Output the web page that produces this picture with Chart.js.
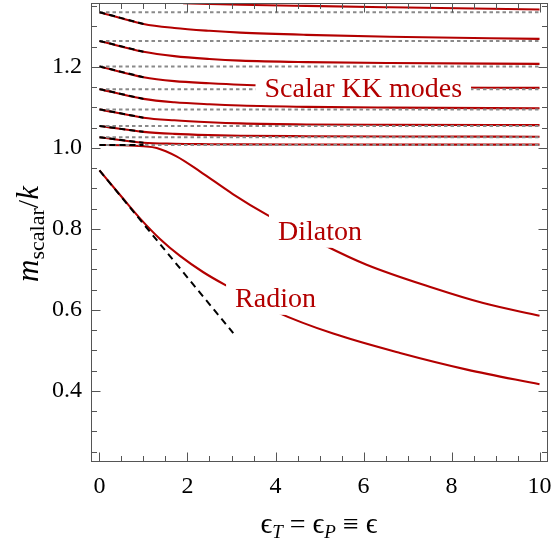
<!DOCTYPE html>
<html>
<head>
<meta charset="utf-8">
<script src="https://cdn.jsdelivr.net/npm/chart.js@4"></script>
<style>
  body { margin: 0; background: #fff; }
  canvas { display: block; }
</style>
</head>
<body>
<canvas id="chart" width="552" height="547"></canvas>
<script>
// epsilon=0 masses of the scalar KK tower (grey dotted lines)
var levels = [1.335, 1.264, 1.201, 1.145, 1.095, 1.054, 1.026, 1.007];

// KK modes, all read on the same epsilon grid
var kkX = [0, 1, 1.7, 2.5, 3.2, 4.7, 6.6, 10];
var kk8 = [1.335, 1.306, 1.296, 1.289, 1.2845, 1.279, 1.2745, 1.269];
var kk7 = [1.264, 1.2373, 1.2265, 1.2195, 1.2155, 1.2118, 1.2095, 1.2074];
var kk6 = [1.201, 1.1744, 1.1648, 1.1595, 1.156, 1.152, 1.1497, 1.148];
var kk5 = [1.145, 1.1209, 1.1125, 1.1075, 1.1045, 1.1012, 1.0994, 1.0977];
var kk4 = [1.095, 1.0745, 1.068, 1.0633, 1.0605, 1.0578, 1.0568, 1.0562];
var kk3 = [1.054, 1.0395, 1.0345, 1.0315, 1.030, 1.0288, 1.028, 1.0275];
var kk2 = [1.026, 1.0125, 1.010, 1.009, 1.0085, 1.0082, 1.008, 1.008];
// top mode only enters the frame around epsilon ~ 2
var kk9X = [1.9, 2.5, 3.2, 4.7, 6.6, 10];
var kk9 = [1.3572, 1.3555, 1.3535, 1.3505, 1.3472, 1.3417];

var dilatonX = [0, 0.5, 1.0, 1.3, 1.75, 2.28, 3.03, 3.8, 5.09, 6.07, 7.59, 8.72, 10];
var dilatonY = [1.007, 1.0065, 1.004, 0.9998, 0.979, 0.942, 0.886, 0.835, 0.7607, 0.7113, 0.6538, 0.6167, 0.5852];

var radionX = [0, 0.54, 0.92, 1.375, 1.83, 2.36, 2.89, 4.03, 5.31, 6.83, 8.35, 10];
var radionY = [0.9444, 0.8742, 0.8259, 0.775, 0.7331, 0.6928, 0.6594, 0.5944, 0.5413, 0.4934, 0.4524, 0.4161];

// small-epsilon expansions (black dashed)
var kkTangentX = [0, 1.0];
var kkTangentEnd = [1.306, 1.2373, 1.1744, 1.1209, 1.0745, 1.0395, 1.0125, 1.007];
var radionTangentX = [0, 3.04];
var radionTangentY = [0.9444, 0.5424];

var xTicks = [0, 2, 4, 6, 8, 10];
var yTicks = [0.4, 0.6, 0.8, 1.0, 1.2];

var RED = '#b30000';
var SERIF = "'Liberation Serif', 'DejaVu Serif', serif";

function pts(xs, ys) {
  return xs.map(function (x, i) { return { x: x, y: ys[i] }; });
}

function redLine(data) {
  return {
    data: data, borderColor: RED, borderWidth: 2.1, pointRadius: 0,
    cubicInterpolationMode: 'monotone', order: 3
  };
}

var datasets = [];
[kk2, kk3, kk4, kk5, kk6, kk7, kk8].forEach(function (ys) {
  datasets.push(redLine(pts(kkX, ys)));
});
datasets.push(redLine(pts(kk9X, kk9)));
datasets.push(redLine(pts(dilatonX, dilatonY)));
datasets.push(redLine(pts(radionX, radionY)));

levels.forEach(function (L, i) {
  datasets.push({
    data: pts([0, 10], [L, L]), borderColor: '#8a8a8a', borderWidth: 2,
    borderDash: [3.5, 3], pointRadius: 0, order: 2
  });
  datasets.push({
    data: pts(kkTangentX, [L, kkTangentEnd[i]]), borderColor: '#000', borderWidth: 2,
    borderDash: [6, 4], pointRadius: 0, order: 1
  });
});
datasets.push({
  data: pts(radionTangentX, radionTangentY), borderColor: '#000', borderWidth: 2,
  borderDash: [7, 5], pointRadius: 0, order: 1
});

// curve labels, anchored in data space (centre x, baseline y)
var curveLabels = [
  { text: 'Scalar KK modes', x: 5.995, y: 1.1266 },
  { text: 'Dilaton', x: 5.01, y: 0.773 },
  { text: 'Radion', x: 4.0, y: 0.6074 }
];

var labelPlugin = {
  id: 'curveLabels',
  afterDatasetsDraw: function (chart) {
    var ctx = chart.ctx, xs = chart.scales.x, ys = chart.scales.y;
    ctx.save();
    ctx.font = '28px ' + SERIF;
    ctx.textAlign = 'center';
    ctx.textBaseline = 'alphabetic';
    curveLabels.forEach(function (l) {
      var px = xs.getPixelForValue(l.x), py = ys.getPixelForValue(l.y);
      var w = ctx.measureText(l.text).width;
      ctx.fillStyle = '#fff';
      ctx.fillRect(px - w / 2 - 9, py - 27, w + 18, 35);
      ctx.fillStyle = RED;
      ctx.fillText(l.text, px, py);
    });
    ctx.restore();
  }
};

function drawPieces(ctx, pieces, startX, baseY) {
  var x = startX;
  pieces.forEach(function (p) {
    ctx.font = p.font;
    ctx.fillText(p.t, x, baseY + (p.dy || 0));
    x += ctx.measureText(p.t).width;
  });
}
function piecesWidth(ctx, pieces) {
  var w = 0;
  pieces.forEach(function (p) { ctx.font = p.font; w += ctx.measureText(p.t).width; });
  return w;
}

var framePlugin = {
  id: 'frame',
  afterDraw: function (chart) {
    var ctx = chart.ctx, a = chart.chartArea;
    var xs = chart.scales.x, ys = chart.scales.y;
    var l = Math.round(a.left) + 0.5, r = Math.round(a.right) + 0.5;
    var t = Math.round(a.top) + 0.5, b = Math.round(a.bottom) + 0.5;
    ctx.save();
    ctx.strokeStyle = '#555';
    ctx.lineWidth = 1;
    ctx.strokeRect(l, t, r - l, b - t);
    ctx.beginPath();
    for (var i = 0; i <= 20; i++) {
      var px = Math.round(xs.getPixelForValue(i * 0.5)) + 0.5;
      var len = (i % 4 === 0) ? 9 : 5.5;
      ctx.moveTo(px, b); ctx.lineTo(px, b - len);
      ctx.moveTo(px, t); ctx.lineTo(px, t + len);
    }
    for (var j = 5; j <= 27; j++) {
      var py = Math.round(ys.getPixelForValue(j * 0.05)) + 0.5;
      var len2 = (j % 4 === 0) ? 9 : 5.5;
      ctx.moveTo(l, py); ctx.lineTo(l + len2, py);
      ctx.moveTo(r, py); ctx.lineTo(r - len2, py);
    }
    ctx.stroke();

    // axis titles
    ctx.fillStyle = '#000';
    ctx.textBaseline = 'alphabetic';
    ctx.textAlign = 'left';
    var xt = [
      { t: '\u03f5', font: '29px ' + SERIF },
      { t: 'T', font: 'italic 19px ' + SERIF, dy: 5 },
      { t: ' = ', font: '28px ' + SERIF },
      { t: '\u03f5', font: '29px ' + SERIF },
      { t: 'P', font: 'italic 19px ' + SERIF, dy: 5 },
      { t: ' \u2261 ', font: '28px ' + SERIF },
      { t: '\u03f5', font: '29px ' + SERIF }
    ];
    var wx = piecesWidth(ctx, xt);
    drawPieces(ctx, xt, 319 - wx / 2, 533);

    var yt = [
      { t: 'm', font: 'italic 31px ' + SERIF },
      { t: 'scalar', font: '22px ' + SERIF, dy: 6 },
      { t: '/', font: '30px ' + SERIF },
      { t: 'k', font: 'italic 31px ' + SERIF }
    ];
    var wy = piecesWidth(ctx, yt);
    ctx.translate(38, (a.top + a.bottom) / 2 + 2);
    ctx.rotate(-Math.PI / 2);
    drawPieces(ctx, yt, -wy / 2, 0);
    ctx.restore();
  }
};

function noPad(s) {
  s.paddingLeft = 0; s.paddingRight = 0; s.paddingTop = 0; s.paddingBottom = 0;
}

var tickFont = { family: SERIF, size: 24 };

new Chart(document.getElementById('chart'), {
  type: 'line',
  data: { datasets: datasets },
  options: {
    responsive: false,
    animation: false,
    layout: { padding: { top: 3, right: 5, left: 0, bottom: 0 } },
    plugins: { legend: { display: false }, tooltip: { enabled: false } },
    scales: {
      x: {
        type: 'linear', min: -0.193, max: 10.17,
        grid: { display: false, drawTicks: false },
        border: { display: false },
        afterBuildTicks: function (s) { s.ticks = xTicks.map(function (v) { return { value: v }; }); },
        afterFit: function (s) { s.height = 86; noPad(s); },
        ticks: {
          font: tickFont, color: '#000', padding: 11, maxRotation: 0, autoSkip: false,
          callback: function (v) { return String(v); }
        }
      },
      y: {
        type: 'linear', min: 0.2267, max: 1.3577,
        grid: { display: false, drawTicks: false },
        border: { display: false },
        afterBuildTicks: function (s) { s.ticks = yTicks.map(function (v) { return { value: v }; }); },
        afterFit: function (s) { s.width = 91; noPad(s); },
        ticks: {
          font: tickFont, color: '#000', padding: 9, autoSkip: false,
          callback: function (v) { return v.toFixed(1); }
        }
      }
    }
  },
  plugins: [labelPlugin, framePlugin]
});
</script>
</body>
</html>
